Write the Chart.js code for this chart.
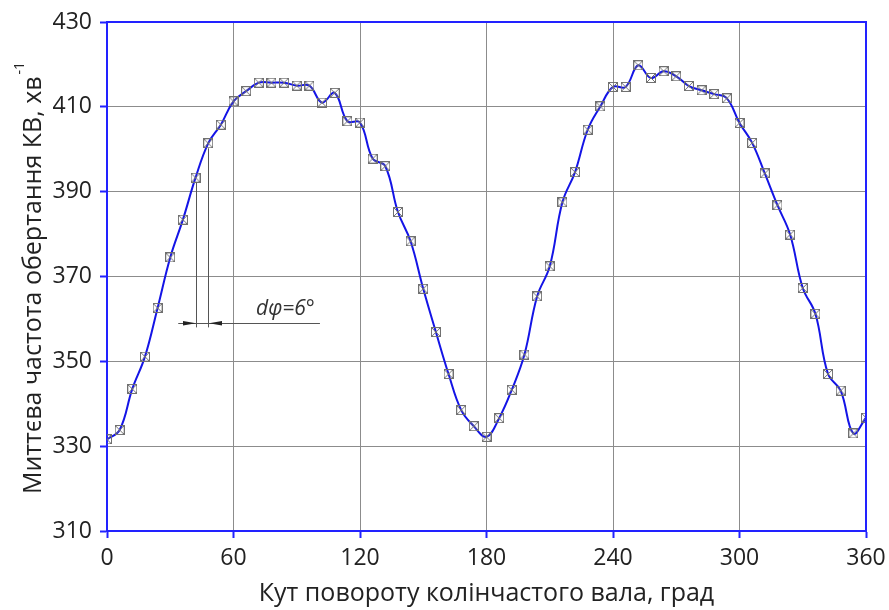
<!DOCTYPE html>
<html>
<head>
<meta charset="utf-8">
<script src="https://cdn.jsdelivr.net/npm/chart.js@4.4.1/dist/chart.umd.min.js"></script>
<style>
  body { margin: 0; background: #fff; }
  #wrap { width: 889px; height: 610px; }
</style>
</head>
<body>
<div id="wrap"><canvas id="rpmChart" width="889" height="610"></canvas></div>
<script>
// crank angle, deg
const angles = [0, 6, 12, 18, 24, 30, 36, 42, 48, 54, 60, 66, 72, 78, 84, 90, 96, 102, 108, 114, 120,
  126, 132, 138, 144, 150, 156, 162, 168, 174, 180, 186, 192, 198, 204, 210, 216, 222, 228, 234, 240,
  246, 252, 258, 264, 270, 276, 282, 288, 294, 300, 306, 312, 318, 324, 330, 336, 342, 348, 354, 360];
// instantaneous crankshaft speed, min^-1
const rpm = [331.6, 333.8, 343.5, 351.1, 362.6, 374.5, 383.4, 393.3, 401.4, 405.8, 411.3, 413.7, 415.7, 415.7,
  415.7, 415.0, 415.0, 411.0, 413.3, 406.6, 406.3, 397.8, 396.0, 385.2, 378.3, 367.1, 356.9, 347.0, 338.5,
  334.7, 332.2, 336.6, 343.3, 351.6, 365.3, 372.4, 387.5, 394.6, 404.6, 410.1, 414.7, 414.7, 419.8, 416.8,
  418.4, 417.2, 414.9, 413.9, 413.0, 412.0, 406.2, 401.5, 394.3, 386.8, 379.9, 367.3, 361.2, 347.0, 343.1,
  333.0, 336.7];
const xTicks = [0, 60, 120, 180, 240, 300, 360];
const yTicks = [310, 330, 350, 370, 390, 410, 430];

// dφ = 6° dimension
const dimFrom = 42, dimTo = 48;
const dimLevel = 359.1, dimLineEnd = 358;
const dimLeft = 33.8, dimRight = 101;

const BLUE = '#2222ff';
const FONT = '"Open Sans", "Noto Sans", sans-serif';

const marker = document.createElement('canvas');
marker.width = 10; marker.height = 10;
(function () {
  const c = marker.getContext('2d');
  c.strokeStyle = '#707070';
  c.lineWidth = 1;
  c.strokeRect(0.5, 0.5, 9, 9);
  c.beginPath();
  c.moveTo(1, 1); c.lineTo(9, 9);
  c.moveTo(9, 1); c.lineTo(1, 9);
  c.stroke();
})();

const extras = {
  id: 'extras',
  afterDatasetsDraw(chart) {
    const ctx = chart.ctx;
    const a = chart.chartArea;
    const xs = chart.scales.x, ys = chart.scales.y;
    ctx.save();
    // top and right border
    ctx.strokeStyle = BLUE;
    ctx.lineWidth = 2;
    ctx.beginPath();
    ctx.moveTo(a.left, a.top);
    ctx.lineTo(a.right, a.top);
    ctx.lineTo(a.right, a.bottom);
    ctx.stroke();

    // dimension lines
    ctx.strokeStyle = '#555';
    ctx.fillStyle = '#222';
    ctx.lineWidth = 1;
    const x1 = xs.getPixelForValue(dimFrom), x2 = xs.getPixelForValue(dimTo);
    const yl = ys.getPixelForValue(dimLevel);
    const yEnd = ys.getPixelForValue(dimLineEnd);
    ctx.beginPath();
    ctx.moveTo(Math.round(x1) + 0.5, ys.getPixelForValue(rpm[angles.indexOf(dimFrom)]) + 5);
    ctx.lineTo(Math.round(x1) + 0.5, yEnd);
    ctx.moveTo(Math.round(x2) + 0.5, ys.getPixelForValue(rpm[angles.indexOf(dimTo)]) + 5);
    ctx.lineTo(Math.round(x2) + 0.5, yEnd);
    ctx.moveTo(xs.getPixelForValue(dimLeft), Math.round(yl) + 0.5);
    ctx.lineTo(xs.getPixelForValue(dimRight), Math.round(yl) + 0.5);
    ctx.stroke();
    const arrow = (tipX, dir) => {
      ctx.beginPath();
      ctx.moveTo(tipX, yl + 0.5);
      ctx.lineTo(tipX - dir * 13, yl - 1.8);
      ctx.lineTo(tipX - dir * 13, yl + 2.8);
      ctx.closePath();
      ctx.fill();
    };
    arrow(Math.round(x1), 1);
    arrow(Math.round(x2) + 1, -1);
    ctx.font = 'italic 21px ' + FONT;
    ctx.fillStyle = '#333';
    ctx.textAlign = 'left';
    ctx.textBaseline = 'alphabetic';
    ctx.fillText('dφ=6°', 256, 315);

    // axis titles
    ctx.fillStyle = '#222';
    ctx.font = '25px ' + FONT;
    ctx.textAlign = 'center';
    ctx.textBaseline = 'middle';
    ctx.fillText('Кут повороту колінчастого вала, град', (a.left + a.right) / 2, 594);

    ctx.translate(34, 278);
    ctx.rotate(-Math.PI / 2);
    const main = 'Миттєва частота обертання КВ, хв';
    const sup = '-1';
    ctx.font = '25px ' + FONT;
    const wMain = ctx.measureText(main).width;
    ctx.font = '14px ' + FONT;
    const wSup = ctx.measureText(sup).width;
    const start = -(wMain + wSup + 2) / 2;
    ctx.textAlign = 'left';
    ctx.font = '25px ' + FONT;
    ctx.fillText(main, start, 0);
    ctx.font = '14px ' + FONT;
    ctx.fillText(sup, start + wMain + 2, -14);
    ctx.restore();
  }
};

new Chart(document.getElementById('rpmChart'), {
  type: 'line',
  data: {
    datasets: [{
      data: angles.map((a, i) => ({ x: a, y: rpm[i] })),
      borderColor: '#1414e6',
      borderWidth: 2,
      tension: 0.4,
      fill: false,
      pointStyle: marker,
      pointRadius: 5
    }]
  },
  options: {
    responsive: false,
    animation: false,
    layout: { padding: { top: 22, right: 23, left: 0, bottom: 0 } },
    plugins: { legend: { display: false }, tooltip: { enabled: false } },
    scales: {
      x: {
        type: 'linear',
        min: 0, max: 360,
        afterBuildTicks: (s) => { s.ticks = xTicks.map(v => ({ value: v })); },
        afterFit: (s) => { s.height = 79; s.paddingLeft = 0; s.paddingRight = 0; },
        ticks: { color: '#222', font: { family: FONT, size: 23 }, padding: 7 },
        grid: { color: '#8c8c8c', lineWidth: 1, tickColor: BLUE, tickLength: 7, tickWidth: 2 },
        border: { color: BLUE, width: 2 }
      },
      y: {
        min: 310, max: 430,
        afterBuildTicks: (s) => { s.ticks = yTicks.map(v => ({ value: v })); },
        afterFit: (s) => { s.width = 107; s.paddingTop = 0; s.paddingBottom = 0; },
        ticks: { color: '#222', font: { family: FONT, size: 23 }, padding: 8 },
        grid: { color: '#8c8c8c', lineWidth: 1, tickColor: BLUE, tickLength: 7, tickWidth: 2 },
        border: { color: BLUE, width: 2 }
      }
    }
  },
  plugins: [extras]
});
</script>
</body>
</html>
